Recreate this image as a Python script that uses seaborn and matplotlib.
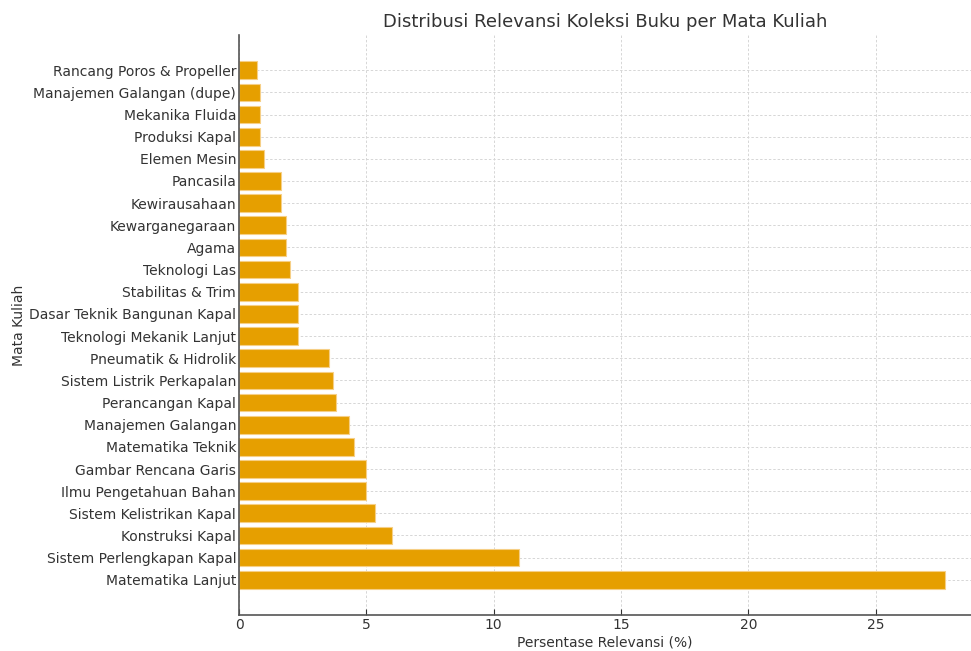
import pandas as pd
import matplotlib.pyplot as plt
import seaborn as sns

# Data (percent of relevant books per course)
courses = [
    "Rancang Poros & Propeller",
    "Manajemen Galangan (dupe)",
    "Mekanika Fluida",
    "Produksi Kapal",
    "Elemen Mesin",
    "Pancasila",
    "Kewirausahaan",
    "Kewarganegaraan",
    "Agama",
    "Teknologi Las",
    "Stabilitas & Trim",
    "Dasar Teknik Bangunan Kapal",
    "Teknologi Mekanik Lanjut",
    "Pneumatik & Hidrolik",
    "Sistem Listrik Perkapalan",
    "Perancangan Kapal",
    "Manajemen Galangan",
    "Matematika Teknik",
    "Gambar Rencana Garis",
    "Ilmu Pengetahuan Bahan",
    "Sistem Kelistrikan Kapal",
    "Konstruksi Kapal",
    "Sistem Perlengkapan Kapal",
    "Matematika Lanjut",
]
relevance = [0.69, 0.83, 0.83, 0.83, 1.0, 1.66, 1.66, 1.83, 1.83, 2.0,
             2.33, 2.33, 2.33, 3.52, 3.68, 3.82, 4.32, 4.5, 5.0, 5.0,
             5.33, 6.02, 11.0, 27.7]

df = pd.DataFrame({"course": courses, "pct": relevance})

sns.set_style("whitegrid", {
    "axes.edgecolor": "#555555",
    "xtick.bottom": True,
    "ytick.left": True,
})
plt.rcParams["font.family"] = ["DejaVu Sans"]
text_col = "#333333"

fig = plt.figure(figsize=(9.71, 6.51), dpi=100)
ax = fig.add_axes([239 / 971, 36 / 651, 1 - 239 / 971, (615 - 35) / 651])

sns.barplot(data=df, x="pct", y="course", orient="h", color="#E69F00",
            saturation=1, width=0.8, edgecolor="#f6cf86", linewidth=0.8, ax=ax)

ax.set_xlim(0, 28.74)
ax.set_ylim(len(courses) - 1 + 1.59, -1.59)
ax.set_xticks([0, 5, 10, 15, 20, 25])
ax.grid(True, axis="both", linestyle=(0, (2.5, 2)), linewidth=0.7, color="#d6d6d6")
ax.set_axisbelow(True)

for side in ["top", "right"]:
    ax.spines[side].set_visible(False)
for side in ["left", "bottom"]:
    ax.spines[side].set_linewidth(1.2)
    ax.spines[side].set_color("#555555")

ax.tick_params(axis="both", labelsize=10, colors=text_col, length=4, width=0.8,
               direction="in", pad=2)
ax.set_title("Distribusi Relevansi Koleksi Buku per Mata Kuliah",
             fontsize=13, color=text_col, pad=6)
ax.set_xlabel("Persentase Relevansi (%)", fontsize=10, color=text_col, labelpad=3)
ax.set_ylabel("Mata Kuliah", fontsize=10, color=text_col, labelpad=2)

fig.savefig("out.png", dpi=100)
